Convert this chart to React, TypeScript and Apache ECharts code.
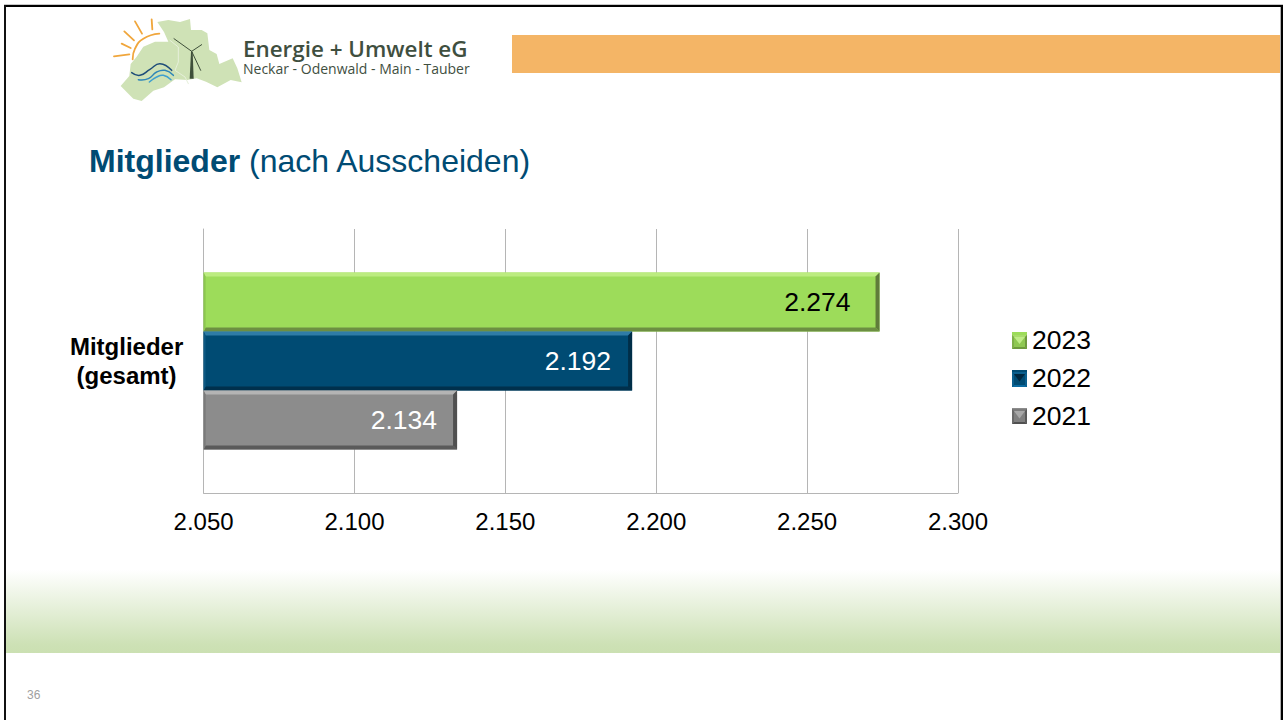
import React, { useEffect, useRef } from "react";
import * as echarts from "echarts";

const categories = ["Mitglieder\n(gesamt)"];
const years = ["2023", "2022", "2021"];
const values2023 = [2274];
const values2022 = [2192];
const values2021 = [2134];
const legendOrder = ["2023", "2022", "2021"];
const axisMin = 2050;
const axisMax = 2300;
const axisStep = 50;

const FONT = '"Liberation Sans", Arial, sans-serif';
const BAR_W = 59;

const palette: Record<string, any> = {
  "2021": { base: "#8C8C8C", top: "#B4B4B4", bottom: "#5A5A5A", right: "#505050", left: "#7A7A7A", label: "#FFFFFF", dist: 20 },
  "2022": { base: "#004B73", top: "#2F7CA6", bottom: "#00304C", right: "#002E48", left: "#0E5A84", label: "#FFFFFF", dist: 21 },
  "2023": { base: "#9DDC5A", top: "#BCEC80", bottom: "#6C8F42", right: "#5F7C3A", left: "#8CC650", label: "#000000", dist: 29 },
};

const fmt = (n: number) => `${Math.floor(n / 1000)}.${String(n % 1000).padStart(3, "0")}`;

const bevelItem = (year: string, offset: number) => (_p: any, api: any) => {
  const v = api.value(0);
  const cat = api.value(1);
  const end = api.coord([v, cat]);
  const start = api.coord([axisMin, cat]);
  const cy = end[1] + offset * BAR_W;
  const t = cy - BAR_W / 2;
  const b = cy + BAR_W / 2;
  const l = start[0];
  const r = end[0];
  const e = 4;
  const c = palette[year];
  const poly = (points: number[][], fill: string) => ({ type: "polygon", shape: { points }, style: { fill } });
  return {
    type: "group",
    children: [
      poly([[l, t], [r, t], [r - e, t + e], [l + 2, t + e]], c.top),
      poly([[l, b], [r, b], [r - e, b - e], [l + 2, b - e]], c.bottom),
      poly([[r, t], [r, b], [r - e, b - e], [r - e, t + e]], c.right),
      poly([[l, t], [l + 2, t + e], [l + 2, b - e], [l, b]], c.left),
    ],
  };
};

const barSeries = (year: string, data: number[]) => ({
  name: year,
  type: "bar",
  data,
  barWidth: BAR_W,
  barGap: "0%",
  itemStyle: { color: palette[year].base },
  label: {
    show: true,
    position: "insideRight",
    distance: palette[year].dist,
    formatter: (p: any) => fmt(p.value),
    color: palette[year].label,
    fontFamily: FONT,
    fontSize: 26.5,
  },
});

const bevelSeries = (year: string, data: number[], offset: number) => ({
  name: `bevel-${year}`,
  type: "custom",
  renderItem: bevelItem(year, offset),
  data: data.map((v, i) => [v, i]),
  encode: { x: 0, y: 1 },
  clip: false,
  silent: true,
  z: 3,
});

const zoomA = (pts: number[][]) => pts.map(([x, y]) => [x / 3 + 100, y / 3]);
const zoomB = (pts: number[][]) => pts.map(([x, y]) => [x / 3 + 110, y / 3 + 12]);

const mapOutline = zoomA([
  [172, 66], [205, 60], [240, 66], [270, 57], [273, 90], [305, 90], [322, 100], [328, 150], [350, 162], [358, 192],
  [398, 175], [412, 205], [425, 247], [392, 240], [352, 262], [318, 245], [290, 235], [262, 240], [225, 238], [192, 262],
  [160, 272], [125, 303], [100, 296], [62, 258], [88, 228], [92, 192], [110, 170], [130, 140], [165, 125], [205, 125], [192, 96],
]);

const legendIcons = [
  { y: 335, h: 14, c: { l: "#7FB04A", t: "#A9DC6C", r: "#6E9A3E", b: "#6E9A3E", m: "#C0EC88", f: "#8FC852" } },
  { y: 372, h: 15, c: { l: "#0B5F8E", t: "#0B5F8E", r: "#0B5F8E", b: "#0A6AA0", m: "#00273F", f: "#004B73" } },
  { y: 409, h: 15, c: { l: "#6A6A6A", t: "#7C7C7C", r: "#5A5A5A", b: "#505050", m: "#A8A8A8", f: "#808080" } },
];

const legendBevels = legendIcons.flatMap(({ y, h, c }) => {
  const x0 = 1012;
  const x1 = 1027;
  const y1 = y + h;
  const cx = (x0 + x1) / 2;
  const cy = y + h / 2 + 2;
  return [
    { type: "polygon", z: 10, shape: { points: [[x0, y], [x1, y], [x1, y1], [x0, y1]] }, style: { fill: c.f } },
    { type: "polygon", z: 10, shape: { points: [[x0, y], [x1, y], [x1 - 2, y + 2], [x0 + 2, y + 2]] }, style: { fill: c.t } },
    { type: "polygon", z: 10, shape: { points: [[x0, y1], [x1, y1], [x1 - 2, y1 - 2], [x0 + 2, y1 - 2]] }, style: { fill: c.b } },
    { type: "polygon", z: 10, shape: { points: [[x0, y], [x0 + 2, y + 2], [x0 + 2, y1 - 2], [x0, y1]] }, style: { fill: c.l } },
    { type: "polygon", z: 10, shape: { points: [[x1, y], [x1 - 2, y + 2], [x1 - 2, y1 - 2], [x1, y1]] }, style: { fill: c.r } },
    { type: "polygon", z: 10, shape: { points: [[x0 + 2, y + 2], [x1 - 2, y + 2], [cx, cy]] }, style: { fill: c.m } },
  ];
});

const line = (pts: number[][], stroke: string, lineWidth: number, smooth = 0) => ({
  type: "polyline",
  z: 1,
  shape: { points: pts, smooth },
  style: { stroke, lineWidth, fill: "none", lineCap: "round" },
});

const slideGraphics: any[] = [
  { type: "rect", z: 0, shape: { x: 0, y: 0, width: 1283, height: 720 }, style: { fill: "#FFFFFF" } },
  {
    type: "rect",
    z: 0,
    shape: { x: 5, y: 570, width: 1276, height: 83 },
    style: {
      fill: new echarts.graphic.LinearGradient(0, 0, 0, 1, [
        { offset: 0, color: "#FFFFFF" },
        { offset: 0.9, color: "#CDE1B5" },
        { offset: 1, color: "#CBE0B2" },
      ]),
    },
  },
  { type: "rect", z: 1, shape: { x: 512, y: 35, width: 769, height: 38 }, style: { fill: "#F4B566" } },
  { type: "rect", z: 1, shape: { x: 4, y: 4, width: 1279, height: 1 }, style: { fill: "#C8C8C8" } },
  { type: "rect", z: 1, shape: { x: 4, y: 5, width: 1279, height: 2 }, style: { fill: "#000000" } },
  { type: "rect", z: 1, shape: { x: 4, y: 5, width: 2, height: 715 }, style: { fill: "#111111" } },
  { type: "rect", z: 1, shape: { x: 1280, y: 7, width: 1, height: 713 }, style: { fill: "#B0B0B0" } },
  { type: "rect", z: 1, shape: { x: 1281, y: 5, width: 2, height: 715 }, style: { fill: "#000000" } },

  { type: "polygon", z: 1, shape: { points: mapOutline }, style: { fill: "#CFE2B6" } },
  line(zoomB([[180, 85], [205, 105], [205, 150], [195, 175], [225, 195], [235, 215]]), "#E6F0DA", 1),
  line(zoomB([[12, 133], [58, 127]]), "#F0A63C", 1.8),
  line(zoomB([[35, 95], [62, 108]]), "#F0A63C", 1.8),
  line(zoomB([[43, 58], [72, 85]]), "#F0A63C", 1.8),
  line(zoomB([[75, 28], [96, 65]]), "#F0A63C", 1.8),
  line(zoomB([[125, 22], [127, 52]]), "#F0A63C", 1.8),
  line(zoomB([[68, 142], [75, 110], [100, 80], [148, 65]]), "#F0A63C", 1.8, 0.5),
  line(zoomB([[65, 182], [90, 190], [120, 172], [150, 155], [185, 175]]), "#1F4E79", 1.5, 0.5),
  line(zoomB([[85, 203], [115, 200], [140, 180], [165, 175], [190, 190]]), "#2E86B8", 1.5, 0.5),
  line(zoomB([[118, 210], [140, 195], [160, 190], [183, 203]]), "#3FA0CE", 1.5, 0.5),
  { type: "polygon", z: 1, shape: { points: zoomB([[243, 120], [248, 120], [251, 200], [239, 200]]) }, style: { fill: "#3E4F3A" } },
  line(zoomB([[245, 118], [192, 80]]), "#3E4F3A", 1),
  line(zoomB([[245, 118], [275, 98]]), "#3E4F3A", 1),
  line(zoomB([[245, 118], [272, 175]]), "#3E4F3A", 1),
  {
    type: "text",
    z: 1,
    x: 243,
    y: 38.5,
    style: {
      text: "{a|Energie + Umwelt eG}\n{b|Neckar - Odenwald - Main - Tauber}",
      rich: {
        a: { fontFamily: '"Open Sans"', fontWeight: 600, fontSize: 22.4, lineHeight: 20, fill: "#3F4F3F" },
        b: { fontFamily: '"Open Sans"', fontSize: 14, lineHeight: 20, fill: "#3F4F3F" },
      },
    },
  },
  {
    type: "text",
    z: 1,
    x: 27,
    y: 689,
    style: { text: "36", fontFamily: FONT, fontSize: 12, fill: "#A0A0A0" },
  },
  ...legendBevels,
];

export default function App() {
  const ref = useRef<HTMLDivElement>(null);

  useEffect(() => {
    if (!ref.current) return;
    const chart = echarts.init(ref.current, undefined, { renderer: "svg" });
    chart.setOption({
      animation: false,
      backgroundColor: "#FFFFFF",
      title: {
        left: 89,
        top: 145,
        padding: 0,
        text: "{b|Mitglieder} {r|(nach Ausscheiden)}",
        textStyle: {
          fontWeight: "normal",
          fontSize: 32,
          fontFamily: FONT,
          rich: {
            b: { fontFamily: FONT, fontSize: 32, fontWeight: "bold", color: "#004B73" },
            r: { fontFamily: FONT, fontSize: 32, fontWeight: "normal", color: "#004B73" },
          },
        },
      },
      legend: {
        orient: "vertical",
        left: 1012,
        top: 326,
        padding: 0,
        itemWidth: 15,
        itemHeight: 15,
        itemGap: 11,
        icon: "rect",
        data: legendOrder,
        textStyle: { fontFamily: FONT, fontSize: 26.5, color: "#000000" },
        selectedMode: false,
      },
      grid: { left: 203.6, top: 229, width: 754.4, height: 264, containLabel: false },
      xAxis: {
        type: "value",
        min: axisMin,
        max: axisMax,
        interval: axisStep,
        axisLine: { show: true, lineStyle: { color: "#B5B5B5", width: 1 } },
        axisTick: { show: false },
        splitLine: { show: true, lineStyle: { color: "#B5B5B5", width: 1 } },
        axisLabel: {
          formatter: (v: number) => fmt(v),
          color: "#000000",
          fontFamily: FONT,
          fontSize: 24,
          margin: 16,
        },
      },
      yAxis: {
        type: "category",
        data: categories,
        axisLine: { show: true, onZero: false, lineStyle: { color: "#B5B5B5", width: 1 } },
        axisTick: { show: false },
        axisLabel: {
          color: "#000000",
          fontFamily: FONT,
          fontSize: 24,
          fontWeight: "bold",
          align: "center",
          lineHeight: 29,
          margin: 77,
        },
      },
      series: [
        barSeries(years[0], values2023),
        barSeries(years[1], values2022),
        barSeries(years[2], values2021),
        bevelSeries(years[0], values2023, -1),
        bevelSeries(years[1], values2022, 0),
        bevelSeries(years[2], values2021, 1),
      ],
      graphic: { elements: slideGraphics },
    });
    return () => chart.dispose();
  }, []);

  return <div ref={ref} style={{ position: "absolute", left: 0, top: 0, width: 1283, height: 720 }} />;
}
